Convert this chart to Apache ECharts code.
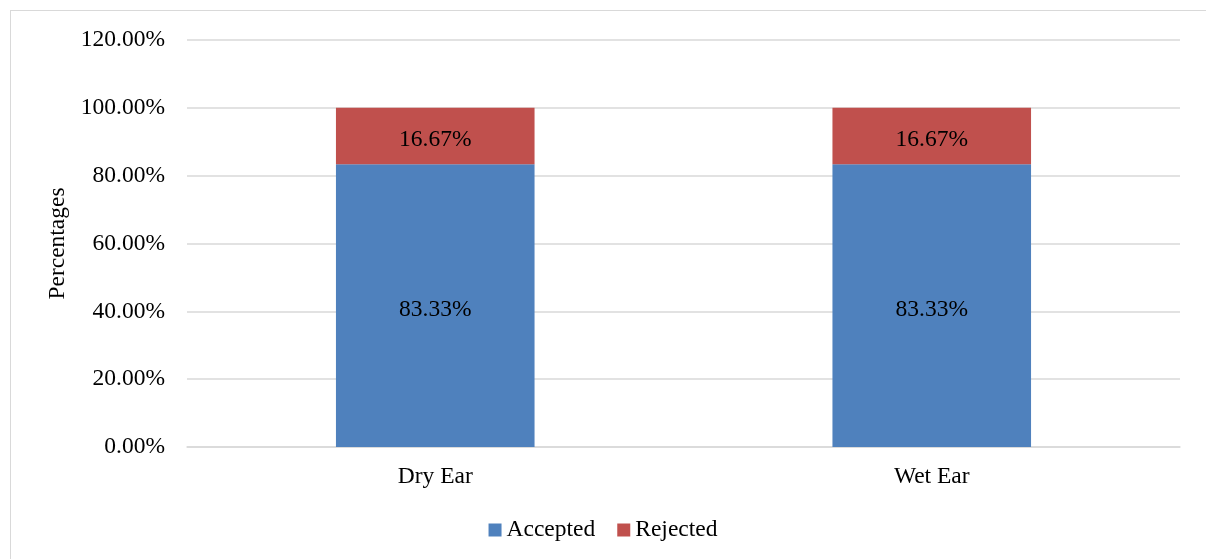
<!DOCTYPE html>
<html>
<head>
<meta charset="utf-8">
<script src="https://cdn.jsdelivr.net/npm/echarts@6/dist/echarts.min.js"></script>
<style>
  html, body { margin: 0; padding: 0; background: #fff; }
  #frame { position: absolute; left: 10px; top: 10px; width: 1300px; height: 700px;
           border-left: 1px solid #d9d9d9; border-top: 1px solid #d9d9d9; }
  #chart { position: absolute; left: 0; top: 0; width: 1206px; height: 559px; }
</style>
</head>
<body>
<div id="frame"></div>
<div id="chart"></div>
<script>
const categories = ['Dry Ear', 'Wet Ear'];
const accepted = [83.33, 83.33];
const rejected = [16.67, 16.67];
const yTicks = [0, 20, 40, 60, 80, 100, 120];

const serif = '"Liberation Serif", "Times New Roman", serif';
const fs = 23.5;
const chart = echarts.init(document.getElementById('chart'));

const labelOpt = {
  show: true,
  position: 'inside',
  color: '#000',
  fontFamily: serif,
  fontSize: fs,
  offset: [0, 4],
  formatter: (p) => p.value.toFixed(2) + '%',
};

chart.setOption({
  animation: false,
  textStyle: { fontFamily: serif },
  grid: { left: 187, right: 26, top: 40, bottom: 112 },
  legend: {
    top: 513,
    left: 'center',
    itemWidth: 13,
    itemHeight: 13,
    itemGap: 22,
    icon: 'rect',
    textStyle: { fontFamily: serif, fontSize: fs, color: '#000', padding: [0, 0, 0, 0] },
    data: ['Accepted', 'Rejected'],
  },
  xAxis: {
    type: 'category',
    data: categories,
    axisTick: { show: false },
    axisLine: { lineStyle: { color: '#d9d9d9', width: 1.5 } },
    axisLabel: { color: '#000', fontFamily: serif, fontSize: fs, margin: 18 },
  },
  yAxis: {
    type: 'value',
    min: yTicks[0],
    max: yTicks[yTicks.length - 1],
    interval: 20,
    name: 'Percentages',
    nameLocation: 'middle',
    nameGap: 102,
    nameRotate: 90,
    nameTextStyle: { color: '#000', fontFamily: serif, fontSize: fs },
    axisLine: { show: false },
    axisTick: { show: false },
    splitLine: { lineStyle: { color: '#d9d9d9', width: 1.5 } },
    axisLabel: {
      color: '#000',
      fontFamily: serif,
      fontSize: fs,
      margin: 22,
      formatter: (v) => v.toFixed(2) + '%',
    },
  },
  series: [
    {
      name: 'Accepted',
      type: 'bar',
      stack: 'total',
      barWidth: '40%',
      data: accepted,
      itemStyle: { color: '#4F81BD' },
      label: labelOpt,
    },
    {
      name: 'Rejected',
      type: 'bar',
      stack: 'total',
      barWidth: '40%',
      data: rejected,
      itemStyle: { color: '#C0504D' },
      label: labelOpt,
    },
  ],
});
</script>
</body>
</html>
